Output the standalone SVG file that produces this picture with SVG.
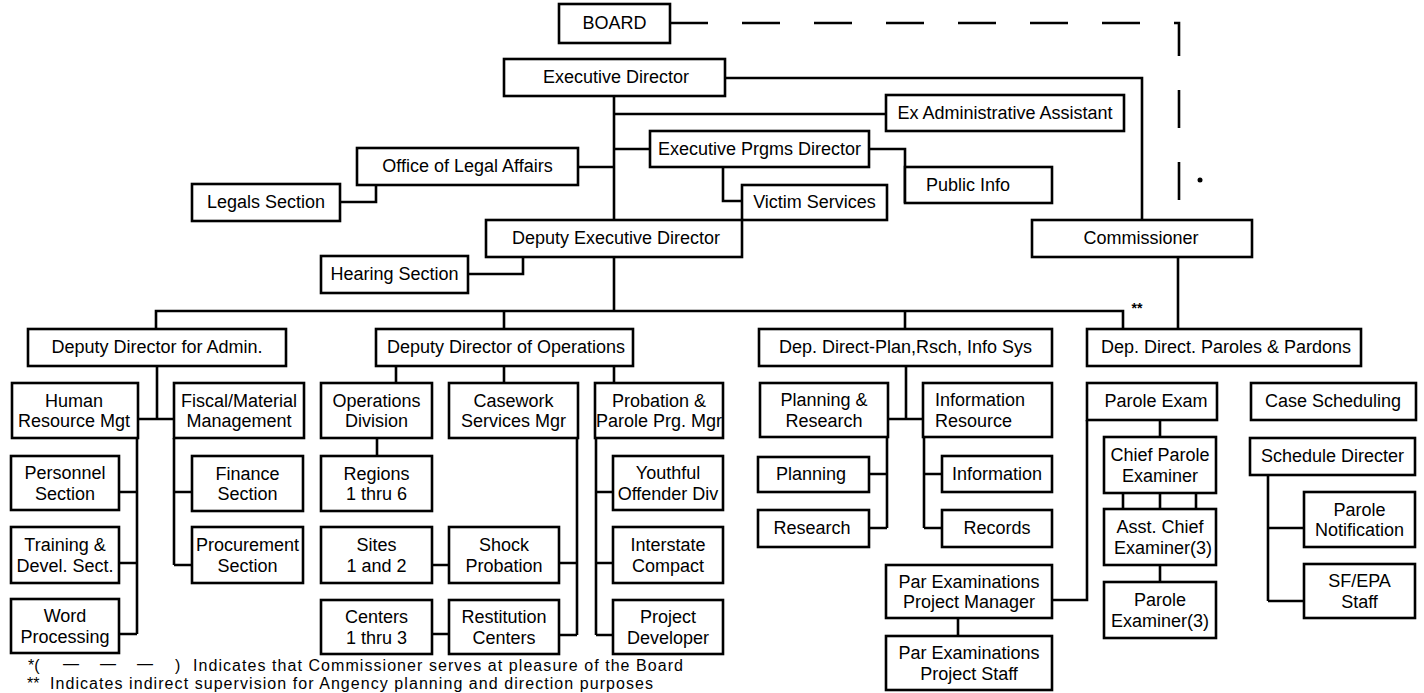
<svg xmlns="http://www.w3.org/2000/svg" width="1424" height="693" viewBox="0 0 1424 693">
<style>
rect{fill:#fff;stroke:#000;stroke-width:2.6}
text{font-family:"Liberation Sans",Arial,sans-serif;font-size:18px;fill:#000;text-anchor:middle}
.l{text-anchor:start}
#legend text{font-size:16px}
#connectors path{fill:none;stroke:#000;stroke-width:2.6}
#connectors .d{stroke-dasharray:38 34}
</style>
<rect x="0" y="0" width="1424" height="693" style="fill:#fff;stroke:none"/>
<g id="connectors">
<path class="d" d="M670,23 H1179 V204"/>
<path d="M725,78 H1142 V220"/>
<path d="M614,96 V220"/>
<path d="M614,114 H886"/>
<path d="M614,149 H650"/>
<path d="M578,167 H614"/>
<path d="M340,202 H376 V185"/>
<path d="M723,167 V201 H742"/>
<path d="M869,149 H905 V203"/>
<path d="M468,274 H523 V257"/>
<path d="M614,257 V311"/>
<path d="M156,329 V311 H1123 V329"/>
<path d="M504,311 V329"/>
<path d="M905,311 V329"/>
<path d="M1178,257 V329"/>
<path d="M157,366 V419"/>
<path d="M138,419 H174"/>
<path d="M137,438 V634"/>
<path d="M119,492 H137 M119,563 H137 M119,634 H137"/>
<path d="M174,438 V565"/>
<path d="M174,492 H192 M174,565 H192"/>
<path d="M396,366 V383 M504,366 V383 M614,366 V383"/>
<path d="M377,438 V456"/>
<path d="M432,565 H449 M432,634 H449"/>
<path d="M577,438 V635 M559,563 H577 M559,635 H577"/>
<path d="M596,438 V635 M596,492 H613 M596,563 H613 M596,635 H613"/>
<path d="M906,366 V419 M888,419 H923"/>
<path d="M887,437 V528 M869,474 H887 M869,528 H887"/>
<path d="M924,437 V528 M924,474 H942 M924,528 H942"/>
<path d="M1160,420 V437"/>
<path d="M1123,493 V509 M1160,493 V509 M1196,493 V509"/>
<path d="M1160,565 V582"/>
<path d="M1087,420 V600 H1052"/>
<path d="M958,618 V636"/>
<path d="M1268,475 V601 M1268,528 H1304 M1268,601 H1304"/>
</g>
<circle cx="1200" cy="180" r="2.5" fill="#000"/>
<text x="1137" y="313" style="font-size:14px;font-weight:bold">**</text>

<g id="n-board"><rect x="559" y="4" width="111" height="39"/><text x="614.5" y="29">BOARD</text></g>
<g id="n-exec"><rect x="504" y="59" width="221" height="37"/><text x="616" y="83">Executive Director</text></g>
<g id="n-exadmin"><rect x="886" y="95" width="238" height="36"/><text x="1005" y="118.5">Ex Administrative Assistant</text></g>
<g id="n-legal"><rect x="357" y="148" width="221" height="37"/><text x="467.5" y="172">Office of Legal Affairs</text></g>
<g id="n-prgms"><rect x="650" y="131" width="219" height="36"/><text x="759.5" y="154.5">Executive Prgms Director</text></g>
<g id="n-legals"><rect x="192" y="184" width="148" height="37"/><text x="266" y="208">Legals Section</text></g>
<g id="n-victim"><rect x="742" y="185" width="145" height="35"/><text x="814.5" y="208">Victim Services</text></g>
<g id="n-pubinfo"><rect x="905" y="167" width="147" height="36"/><text x="968" y="190.5">Public Info</text></g>
<g id="n-depexec"><rect x="486" y="220" width="256" height="37"/><text x="616" y="244">Deputy Executive Director</text></g>
<g id="n-commissioner"><rect x="1032" y="220" width="220" height="37"/><text x="1141" y="244">Commissioner</text></g>
<g id="n-hearing"><rect x="321" y="256" width="147" height="37"/><text x="394.5" y="280">Hearing Section</text></g>
<g id="n-ddadmin"><rect x="28" y="329" width="258" height="37"/><text x="157" y="353">Deputy Director for Admin.</text></g>
<g id="n-ddops"><rect x="376" y="329" width="257" height="37"/><text x="506" y="353">Deputy Director of Operations</text></g>
<g id="n-ddplan"><rect x="759" y="329" width="293" height="37"/><text x="905.5" y="353">Dep. Direct-Plan,Rsch, Info Sys</text></g>
<g id="n-ddparole"><rect x="1087" y="329" width="274" height="37"/><text x="1226" y="353">Dep. Direct. Paroles &amp; Pardons</text></g>
<g id="n-hrm"><rect x="12" y="383" width="126" height="55"/><text x="74" y="406.5">Human</text><text x="74" y="427">Resource Mgt</text></g>
<g id="n-fiscal"><rect x="174" y="383" width="130" height="55"/><text x="239" y="406.5">Fiscal/Material</text><text x="239" y="427">Management</text></g>
<g id="n-opsdiv"><rect x="321" y="383" width="111" height="55"/><text x="376.5" y="406.5">Operations</text><text x="376.5" y="427">Division</text></g>
<g id="n-casework"><rect x="449" y="383" width="129" height="55"/><text x="513.5" y="406.5">Casework</text><text x="513.5" y="427">Services Mgr</text></g>
<g id="n-probation"><rect x="595" y="383" width="128" height="55"/><text x="659" y="406.5">Probation &amp;</text><text x="659" y="427">Parole Prg. Mgr</text></g>
<g id="n-planres"><rect x="760" y="383" width="128" height="54"/><text x="824" y="406">Planning &amp;</text><text x="824" y="426.5">Research</text></g>
<g id="n-infores"><rect x="923" y="383" width="129" height="54"/><text class="l" x="935" y="406">Information</text><text class="l" x="935" y="426.5">Resource</text></g>
<g id="n-paroleexam"><rect x="1087" y="383" width="130" height="37"/><text x="1156" y="407">Parole Exam</text></g>
<g id="n-casesched"><rect x="1251" y="383" width="165" height="37"/><text x="1333" y="407">Case Scheduling</text></g>
<g id="n-personnel"><rect x="11" y="456" width="108" height="54"/><text x="65" y="479">Personnel</text><text x="65" y="499.5">Section</text></g>
<g id="n-training"><rect x="11" y="527" width="108" height="56"/><text x="65" y="551">Training &amp;</text><text x="65" y="571.5">Devel. Sect.</text></g>
<g id="n-word"><rect x="11" y="599" width="108" height="54"/><text x="65" y="622">Word</text><text x="65" y="642.5">Processing</text></g>
<g id="n-finance"><rect x="192" y="456" width="111" height="55"/><text x="247.5" y="479.5">Finance</text><text x="247.5" y="500">Section</text></g>
<g id="n-procurement"><rect x="192" y="527" width="111" height="56"/><text x="247.5" y="551">Procurement</text><text x="247.5" y="571.5">Section</text></g>
<g id="n-regions"><rect x="321" y="456" width="111" height="55"/><text x="376.5" y="479.5">Regions</text><text x="376.5" y="500">1 thru 6</text></g>
<g id="n-sites"><rect x="321" y="527" width="111" height="56"/><text x="376.5" y="551">Sites</text><text x="376.5" y="571.5">1 and 2</text></g>
<g id="n-centers"><rect x="321" y="600" width="111" height="54"/><text x="376.5" y="623">Centers</text><text x="376.5" y="643.5">1 thru 3</text></g>
<g id="n-shock"><rect x="449" y="527" width="110" height="56"/><text x="504" y="551">Shock</text><text x="504" y="571.5">Probation</text></g>
<g id="n-restitution"><rect x="449" y="600" width="110" height="54"/><text x="504" y="623">Restitution</text><text x="504" y="643.5">Centers</text></g>
<g id="n-youthful"><rect x="613" y="456" width="110" height="54"/><text x="668" y="479">Youthful</text><text x="668" y="499.5">Offender Div</text></g>
<g id="n-interstate"><rect x="613" y="527" width="110" height="56"/><text x="668" y="551">Interstate</text><text x="668" y="571.5">Compact</text></g>
<g id="n-projdev"><rect x="613" y="600" width="110" height="54"/><text x="668" y="623">Project</text><text x="668" y="643.5">Developer</text></g>
<g id="n-planning"><rect x="758" y="457" width="111" height="35"/><text x="811" y="480">Planning</text></g>
<g id="n-research"><rect x="758" y="510" width="111" height="37"/><text x="812" y="534">Research</text></g>
<g id="n-information"><rect x="942" y="456" width="110" height="36"/><text x="997" y="479.5">Information</text></g>
<g id="n-records"><rect x="942" y="510" width="110" height="37"/><text x="997" y="534">Records</text></g>
<g id="n-chief"><rect x="1104" y="437" width="112" height="56"/><text x="1160" y="461">Chief Parole</text><text x="1160" y="481.5">Examiner</text></g>
<g id="n-asst"><rect x="1104" y="509" width="112" height="56"/><text x="1160" y="533">Asst. Chief</text><text x="1163" y="553.5">Examiner(3)</text></g>
<g id="n-parexam3"><rect x="1104" y="582" width="112" height="56"/><text x="1160" y="606">Parole</text><text x="1160" y="626.5">Examiner(3)</text></g>
<g id="n-scheddir"><rect x="1250" y="438" width="165" height="37"/><text x="1332.5" y="462">Schedule Directer</text></g>
<g id="n-parnotif"><rect x="1304" y="492" width="111" height="55"/><text x="1359.5" y="515.5">Parole</text><text x="1359.5" y="536">Notification</text></g>
<g id="n-sfepa"><rect x="1304" y="564" width="111" height="54"/><text x="1359.5" y="587">SF/EPA</text><text x="1359.5" y="607.5">Staff</text></g>
<g id="n-parmgr"><rect x="886" y="565" width="166" height="53"/><text x="969" y="587.5">Par Examinations</text><text x="969" y="608">Project Manager</text></g>
<g id="n-parstaff"><rect x="886" y="636" width="166" height="54"/><text x="969" y="659">Par Examinations</text><text x="969" y="679.5">Project Staff</text></g>

<g id="legend">
<text class="l" x="28" y="670.5">*(</text>
<text class="l" x="63" y="669" textLength="90">— — —</text>
<text class="l" x="175" y="670.5">)</text>
<text class="l" x="193" y="670.5" textLength="490">Indicates that Commissioner serves at pleasure of the Board</text>
<text class="l" x="27" y="688.5">**</text>
<text class="l" x="50" y="688.5" textLength="603">Indicates indirect supervision for Angency planning and direction purposes</text>
</g>
</svg>
